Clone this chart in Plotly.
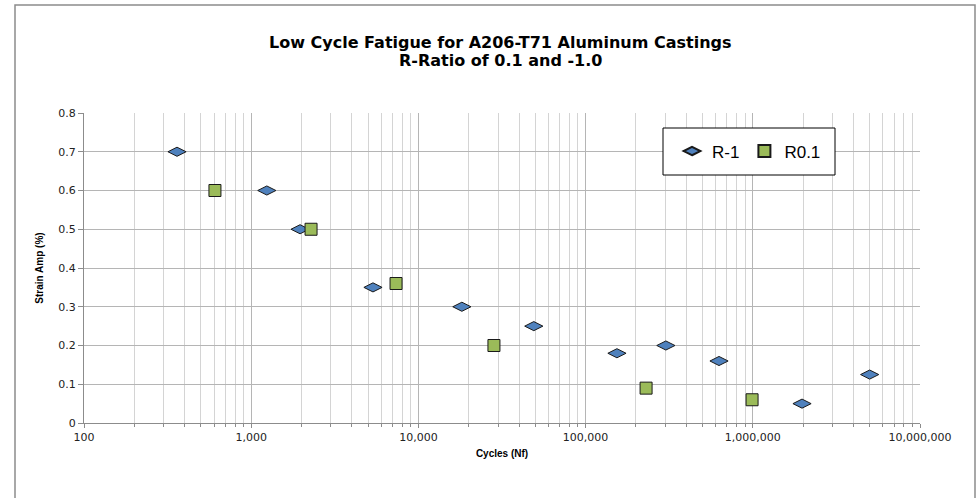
import plotly.graph_objects as go

# R-1 series
r1_cycles = [360, 1240, 1960, 5350, 18200, 49000, 154000, 302000, 628000, 1970000, 5000000]
r1_strain = [0.70, 0.60, 0.50, 0.35, 0.30, 0.25, 0.18, 0.20, 0.16, 0.05, 0.125]

# R0.1 series
r01_cycles = [607, 2280, 7350, 28300, 230000, 990000]
r01_strain = [0.60, 0.50, 0.36, 0.20, 0.09, 0.06]

x_tickvals = [100, 1000, 10000, 100000, 1000000, 10000000]
x_ticktext = ["100", "1,000", "10,000", "100,000", "1,000,000", "10,000,000"]
y_tickvals = [0, 0.1, 0.2, 0.3, 0.4, 0.5, 0.6, 0.7, 0.8]
y_ticktext = ["0", "0.1", "0.2", "0.3", "0.4", "0.5", "0.6", "0.7", "0.8"]

title_lines = ["Low Cycle Fatigue for A206-T71 Aluminum Castings", "R-Ratio of 0.1 and -1.0"]

fig = go.Figure()
fig.add_trace(go.Scatter(
    x=r1_cycles, y=r1_strain, mode="markers", name="R-1",
    marker=dict(symbol="diamond-wide", size=13, color="#4F81BD",
                line=dict(color="#1a1a1a", width=1)),
))
fig.add_trace(go.Scatter(
    x=r01_cycles, y=r01_strain, mode="markers", name="R0.1",
    marker=dict(symbol="square", size=12, color="#9BBB59",
                line=dict(color="#1a1a1a", width=1)),
))

W, H = 978, 498
L, R, T, B = 84, 58, 113, 75
pw, ph = W - L - R, H - T - B

def px_x(x):
    return (x - L) / pw

def px_y(y):
    return (H - B - y) / ph

annotations = []
for line, yc in zip(title_lines, [42, 60]):
    annotations.append(dict(
        text="<b>" + line + "</b>", xref="paper", yref="paper",
        x=px_x(500), y=px_y(yc), xanchor="center", yanchor="middle",
        showarrow=False,
        font=dict(family="DejaVu Sans, Verdana, sans-serif", size=16, color="black"),
    ))

fig.update_layout(
    width=W, height=H,
    margin=dict(l=L, r=R, t=T, b=B),
    paper_bgcolor="white", plot_bgcolor="white",
    annotations=annotations,
    showlegend=True,
    legend=dict(
        x=px_x(672), y=px_y(151.5), xanchor="left", yanchor="middle",
        orientation="h", bgcolor="rgba(0,0,0,0)", borderwidth=0,
        font=dict(family="Liberation Sans, Arial, sans-serif", size=17, color="black"),
        itemsizing="constant",
    ),
    xaxis=dict(
        type="log", range=[2, 7],
        tickvals=x_tickvals, ticktext=x_ticktext,
        showgrid=True, gridcolor="#b5b5b5", gridwidth=1,
        showline=True, linecolor="#8c8c8c", linewidth=1,
        ticks="outside", ticklen=4, tickcolor="#8c8c8c",
        minor=dict(dtick="D1", showgrid=True, gridcolor="#d4d4d4", gridwidth=1,
                   ticks="outside", ticklen=3, tickcolor="#8c8c8c"),
        tickfont=dict(family="DejaVu Sans, Verdana, sans-serif", size=11, color="#222"),
        title=dict(text="<b>Cycles (Nf)</b>", standoff=6,
                   font=dict(family="Liberation Sans Narrow, Arial Narrow, Liberation Sans, sans-serif", size=10, color="black")),
        zeroline=False,
    ),
    yaxis=dict(
        range=[0, 0.8], tickvals=y_tickvals, ticktext=y_ticktext,
        showgrid=True, gridcolor="#b5b5b5", gridwidth=1,
        showline=True, linecolor="#8c8c8c", linewidth=1,
        ticks="outside", ticklen=5, tickcolor="#8c8c8c",
        tickfont=dict(family="DejaVu Sans, Verdana, sans-serif", size=11, color="#222"),
        title=dict(text="<b>Strain Amp (%)</b>", standoff=12,
                   font=dict(family="Liberation Sans Narrow, Arial Narrow, Liberation Sans, sans-serif", size=10, color="black")),
        zeroline=False,
    ),
    shapes=[
        dict(type="rect", xref="paper", yref="paper",
             x0=px_x(15), x1=px_x(975), y0=px_y(510), y1=px_y(5),
             line=dict(color="#8c8c8c", width=1.5), fillcolor="rgba(0,0,0,0)", layer="below"),
        dict(type="rect", xref="paper", yref="paper",
             x0=px_x(663), x1=px_x(835), y0=px_y(175), y1=px_y(128),
             line=dict(color="black", width=1), fillcolor="white", layer="above"),
    ],
)

fig.write_html("out.html", config={"displayModeBar": False},
               post_script="document.body.style.margin='0px';")
